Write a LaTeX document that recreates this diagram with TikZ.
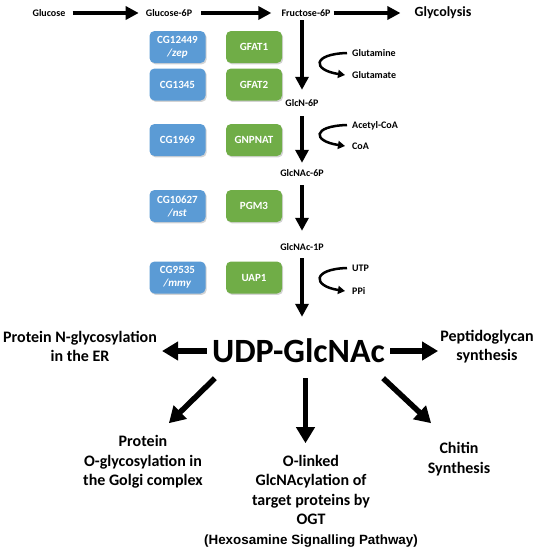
\documentclass[tikz,border=0pt]{standalone}
\usepackage{fontspec}
\setmainfont{Carlito}
\newfontfamily\arialfont{Liberation Sans}
\usetikzlibrary{arrows.meta,shadows}
\definecolor{boxblue}{HTML}{5B9BD5}
\definecolor{boxgreen}{HTML}{70AD47}
\begin{document}
\begin{tikzpicture}[x=1pt,y=-1pt,
  small/.style={font=\bfseries\fontsize{10}{12}\selectfont, inner sep=0pt, text height=7pt, text depth=0pt},
  big/.style={font=\bfseries\fontsize{16}{19.5}\selectfont, inner sep=0pt, align=center},
  gene/.style={rounded corners=5pt, minimum width=56pt, minimum height=32pt, inner sep=1pt,
    text=white, font=\bfseries\fontsize{11}{13}\selectfont, align=center,
    drop shadow={shadow xshift=1.2pt, shadow yshift=-1.4pt, opacity=0.35}},
  bluebox/.style={gene, fill=boxblue},
  greenbox/.style={gene, fill=boxgreen},
  harr/.style={line width=4pt, -{Triangle[length=13pt,width=13pt]}},
  bigarr/.style={line width=5.5pt, -{Triangle[length=16pt,width=18pt]}},
  curv/.style={line width=2.5pt, -{Triangle[length=7pt,width=8pt]}}
]
\useasboundingbox (0,0) rectangle (537,550);

% top row
\node[small] (glc) at (49,13) {Glucose};
\node[small] (g6p) at (169,13) {Glucose-6P};
\node[small] (fru) at (306,13) {Fructose-6P};
\node[font=\bfseries\fontsize{14}{16}\selectfont, inner sep=0pt] (glyc) at (443,13) {Glycolysis};
\draw[harr, shorten <=7pt, shorten >=7pt] (glc) -- (g6p);
\draw[harr, shorten <=9pt, shorten >=10pt] (g6p) -- (fru);
\draw[harr, shorten <=3pt, shorten >=14pt] (fru) -- (glyc);

% intermediates
\node[small] (glcn) at (302,103) {GlcN-6P};
\node[small] (nac6) at (302,173) {GlcNAc-6P};
\node[small] (nac1) at (302,247) {GlcNAc-1P};
\node[font=\bfseries\fontsize{34}{40}\selectfont, inner sep=0pt, text height=22pt, text depth=0pt] (udp) at (298.5,351) {UDP-GlcNAc};

\draw[harr, shorten <=3.5pt, shorten >=9.5pt] (fru.south -| glcn.north) -- (glcn.north);
\draw[harr, shorten <=9.5pt, shorten >=6.5pt] (glcn.south) -- (nac6.north);
\draw[harr, shorten <=8.5pt, shorten >=12.5pt] (nac6.south) -- (nac1.north);
\draw[harr, shorten <=7.5pt, shorten >=23pt] (nac1.south) -- (nac1.south |- udp.north);

% enzyme boxes
\node[bluebox] (b1) at (177.5,47) {CG12449\\\textit{/zep}};
\node[greenbox] (g1) at (254,47) {GFAT1};
\node[bluebox] (b2) at (177.5,84.5) {CG1345};
\node[greenbox] (g2) at (254,84.5) {GFAT2};
\node[bluebox] (b3) at (177.5,140) {CG1969};
\node[greenbox] (g3) at (254,140) {GNPNAT};
\node[bluebox] (b4) at (177.5,206) {CG10627\\\textit{/nst}};
\node[greenbox] (g4) at (254,206) {PGM3};
\node[bluebox] (b5) at (177.5,277.5) {CG9535\\\textit{/mmy}};
\node[greenbox] (g5) at (254,277.5) {UAP1};

% co-substrates
\node[small, anchor=west] (gln) at (352,53) {Glutamine};
\node[small, anchor=west] (glu) at (352,75) {Glutamate};
\node[small, anchor=west] (acoa) at (352,125) {Acetyl-CoA};
\node[small, anchor=west] (coa) at (352,146) {CoA};
\node[small, anchor=west] (utp) at (352,268) {UTP};
\node[small, anchor=west] (ppi) at (352,291) {PPi};
\draw[curv] ([xshift=-5pt]gln.west) .. controls +(-35,1) and +(-33,-5) .. ([xshift=-7pt]glu.west);
\draw[curv] ([xshift=-5pt]acoa.west) .. controls +(-35,1) and +(-33,-5) .. ([xshift=-7pt]coa.west);
\draw[curv] ([xshift=-5pt]utp.west) .. controls +(-35,1) and +(-33,-5) .. ([xshift=-7pt]ppi.west);

% products
\node[big] (ner) at (80,346.5) {Protein N-glycosylation\\in the ER};
\node[big] (pep) at (487,346.5) {Peptidoglycan\\synthesis};
\node[big] (golgi) at (143,462) {Protein\\O-glycosylation in\\the Golgi complex};
\node[big] (ogt) at (311,501) {O-linked\\GlcNAcylation of\\target proteins by\\OGT\\{\arialfont\fontsize{13.4}{19.5}\selectfont (Hexosamine Signalling Pathway)}};
\node[big] (chit) at (459,459) {Chitin\\Synthesis};

\draw[bigarr, shorten <=5pt, shorten >=5pt] (udp.west) -- (udp.west -| ner.east);
\draw[bigarr, shorten <=5pt, shorten >=2pt] (udp.east) -- (udp.east -| pep.west);
\draw[bigarr] ([shift={(3,16)}]udp.south west) -- ++(-46,45);
\draw[bigarr] ([shift={(7,16)}]udp.south) -- ++(0,65);
\draw[bigarr] ([shift={(-2,16)}]udp.south east) -- ++(48,45);
\end{tikzpicture}
\end{document}
